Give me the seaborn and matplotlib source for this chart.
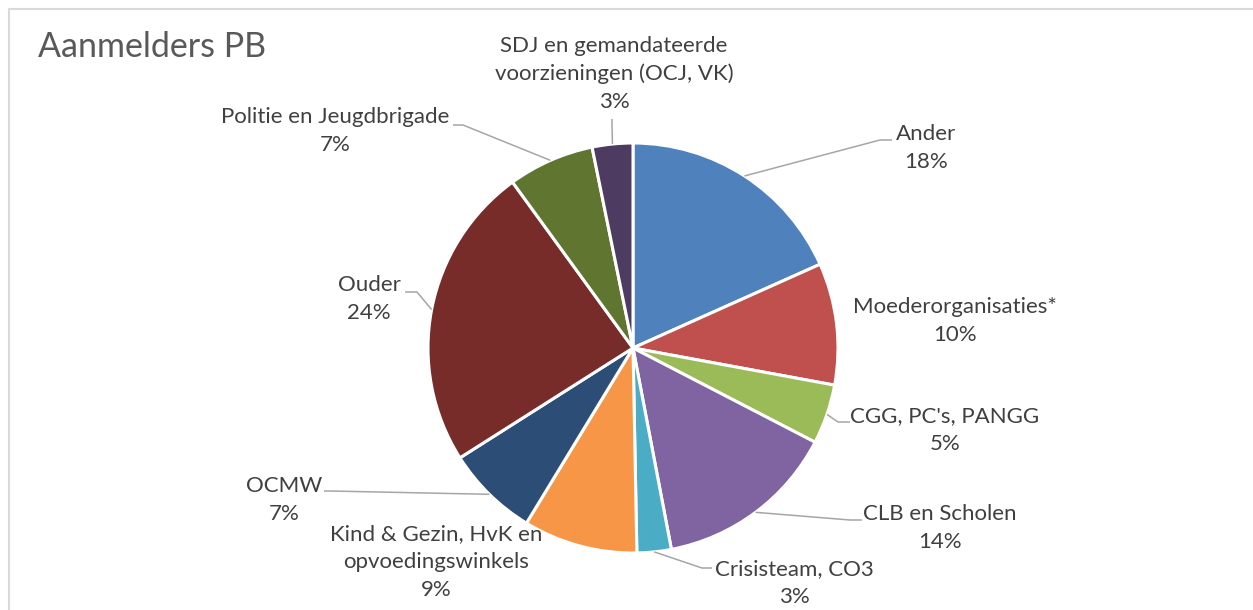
import numpy as np
import matplotlib
matplotlib.use('Agg')
import matplotlib.pyplot as plt
import seaborn as sns

# Data (share of registrations, clockwise from 12 o'clock)
categories = [
    "Ander",
    "Moederorganisaties*",
    "CGG, PC's, PANGG",
    "CLB en Scholen",
    "Crisisteam, CO3",
    "Kind & Gezin, HvK en\nopvoedingswinkels",
    "OCMW",
    "Ouder",
    "Politie en Jeugdbrigade",
    "SDJ en gemandateerde\nvoorzieningen (OCJ, VK)",
]
shares = [18.3, 9.6, 4.7, 14.4, 2.7, 9.0, 7.3, 24.0, 6.8, 3.2]
colors = ["#4F81BD", "#C0504D", "#9BBB59", "#8064A2", "#4BACC6",
          "#F79646", "#2C4D75", "#772C2A", "#5F7530", "#4D3B62"]

# Layout in pixel coordinates (y downwards): label centre and leader line start/bend
label_pos = [(926, 148), (955, 321), (945, 430), (940, 528), (794, 583),
             (436, 562), (284, 500), (369, 299), (335, 131), (614, 74)]
leaders = [
    [(892, 140), (880, 140)],
    None,
    [(850, 422), (838, 422)],
    [(862, 520), (850, 520)],
    [(712, 568), (702, 568)],
    None,
    [(324, 491), (330, 491)],
    [(405, 292), (417, 292)],
    [(453, 125), (463, 125)],
    [(612, 119), (612, 125)],
]

W, H = 1253, 610
center = (633, 348)
radius = 205
text_color = "#404040"
title_color = "#595959"
line_color = "#A6A6A6"

sns.set_theme(style="white")
plt.rcParams['font.family'] = ['Lato', 'DejaVu Sans']

fig = plt.figure(figsize=(W / 100, H / 100), dpi=100)
ax = fig.add_axes([0, 0, 1, 1])

# y axis is inverted below, so start at -90 and go "counterclock" to get
# a clockwise pie starting at the top on screen
wedges, _ = ax.pie(shares, colors=colors, startangle=-90, counterclock=True,
                   center=center, radius=radius,
                   wedgeprops=dict(edgecolor="white", linewidth=2.2))
ax.set_xlim(0, W)
ax.set_ylim(H, 0)
ax.set_aspect('equal')
ax.axis('off')

total = sum(shares)
for i, (name, val) in enumerate(zip(categories, shares)):
    pct = int(round(val / total * 100))
    x, y = label_pos[i]
    ax.text(x, y, f"{name}\n{pct}%", ha="center", va="center",
            fontsize=16, color=text_color, linespacing=1.47)
    if leaders[i] is not None:
        w = wedges[i]
        theta = np.deg2rad((w.theta1 + w.theta2) / 2)
        px = center[0] + radius * np.cos(theta)
        py = center[1] + radius * np.sin(theta)
        (sx, sy), (bx, by) = leaders[i]
        ax.plot([sx, bx, px], [sy, by, py], color=line_color, lw=1.1,
                solid_capstyle="butt")

ax.text(38, 47, "Aanmelders PB", ha="left", va="center",
        fontsize=24.5, color=title_color)

# chart area border (only top and left visible in the crop)
ax.plot([9, 9, W], [H, 9, 9], color="#D9D9D9", lw=1.5, clip_on=False)

fig.savefig("out.png", dpi=100)
